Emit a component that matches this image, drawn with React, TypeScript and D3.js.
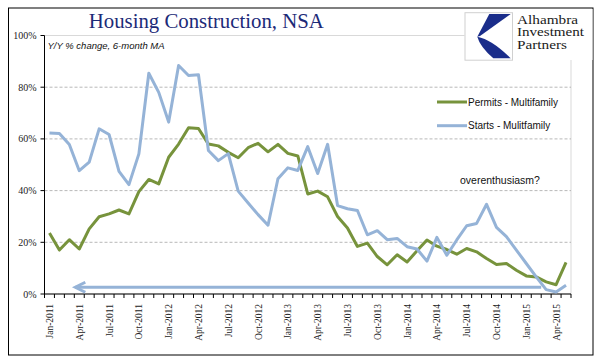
import React from "react";
import * as d3 from "d3";

// Y/Y % change, 6-month MA, Jan-2011 .. May-2015
const years = [2011, 2012, 2013, 2014, 2015];
const monthNames = ["Jan", "Feb", "Mar", "Apr", "May", "Jun", "Jul", "Aug", "Sep", "Oct", "Nov", "Dec"];
const months: string[] = [];
years.forEach((y) => monthNames.forEach((m) => months.push(`${m}-${y}`)));
const categories = months.slice(0, 53);

const permits = [
  23.6, 17, 21, 17.4, 25.2, 29.9, 31, 32.5, 31, 39.6, 44.3, 42.6,
  52.9, 58, 64.3, 64, 58, 57.3, 54.8, 52.7, 56.6, 58.3, 55, 57.9,
  54.4, 53.4, 38.7, 39.8, 37.6, 30, 25.5, 18.4, 19.7, 14.5, 11.3, 15.2,
  12.4, 16.7, 20.9, 18.5, 17.2, 15.4, 17.6, 16.3, 13.7, 11.4, 11.8, 9.2,
  7, 6.6, 4.7, 3.6, 12.2,
];

const starts = [
  62.3, 62.1, 57.8, 47.7, 51, 63.9, 61.7, 47.4, 42.3, 54.2, 85.4, 78,
  66.5, 88.4, 84.5, 84.8, 55.5, 51.6, 54.3, 39.8, 35.2, 30.7, 26.6, 44.6,
  48.8, 47.8, 57, 46.6, 57.9, 34.2, 33, 32.3, 22.9, 24.5, 21, 21.5,
  18.3, 17.4, 12.7, 21.9, 15, 20.9, 26.4, 27.3, 34.7, 25.8, 22.2, 17,
  11.8, 6.6, 1.7, 0.8, 3.4,
];

const yTicks = [0, 20, 40, 60, 80, 100];
const xTickLabels = categories.filter((_, i) => i % 3 === 0);

const series = [
  { name: "Permits - Multifamily", values: permits, color: "#77933C" },
  { name: "Starts - Mulitfamily", values: starts, color: "#95B3D7" },
];

// arrow annotation: from Apr-2011 to Mar-2015 at ~2.6%
const arrowFrom = "Apr-2011";
const arrowTo = "Mar-2015";
const arrowLevel = 2.6;

const serif = "'Liberation Serif', 'Times New Roman', serif";
const sans = "'Liberation Sans', Arial, sans-serif";

const App = () => {
  const left = 44.5;
  const right = 571;
  const top = 35.5;
  const bottom = 294;

  const x = d3.scaleBand<string>().domain(categories).range([left, right]).padding(0);
  const y = d3.scaleLinear().domain([0, 100]).range([bottom, top]);
  const cx = (c: string) => (x(c) as number) + x.bandwidth() / 2;

  const line = d3
    .line<number>()
    .x((_, i) => cx(categories[i]))
    .y((d) => y(d));

  const ax1 = x(arrowFrom) as number;
  const ax2 = x(arrowTo) as number;
  const ay = y(arrowLevel);

  return (
    <svg width={605} height={361} style={{ position: "absolute", left: 0, top: 0 }}>
      <rect x={0} y={0} width={605} height={361} fill="#fff" />
      <rect x={8.5} y={8} width={584.5} height={347} fill="none" stroke="#000" strokeWidth={1} />

      {/* plot area border */}
      <rect x={left} y={top} width={right - left} height={bottom - top} fill="none" stroke="#d9d9d9" strokeWidth={1} />

      {/* gridlines */}
      {yTicks.filter((t) => t > 0 && t < 100).map((t) => (
        <line key={t} x1={left} x2={right} y1={y(t)} y2={y(t)} stroke="#a6a6a6" strokeWidth={0.8} strokeDasharray="3,2" />
      ))}

      {/* y axis */}
      <line x1={left} x2={left} y1={top} y2={bottom} stroke="#000" strokeWidth={1} />
      {yTicks.map((t) => (
        <g key={t}>
          <line x1={left - 4} x2={left} y1={y(t)} y2={y(t)} stroke="#000" />
          <text x={left - 8} y={y(t) + 3.5} textAnchor="end" fontFamily={serif} fontSize={10} fill="#222">
            {t}%
          </text>
        </g>
      ))}

      {/* x axis */}
      <line x1={left} x2={right} y1={bottom} y2={bottom} stroke="#000" strokeWidth={1} />
      {categories.map((c) => (
        <line key={c} x1={x(c) as number} x2={x(c) as number} y1={bottom} y2={bottom + 4} stroke="#000" />
      ))}
      <line x1={right} x2={right} y1={bottom} y2={bottom + 4} stroke="#000" />
      {xTickLabels.map((c) => (
        <text
          key={c}
          transform={`translate(${cx(c) + 3.5},${bottom + 10}) rotate(-90)`}
          textAnchor="end"
          fontFamily={serif}
          fontSize={9.5}
          fill="#222"
        >
          {c}
        </text>
      ))}

      {/* series */}
      {series.map((s) => (
        <path key={s.name} d={line(s.values) as string} fill="none" stroke={s.color} strokeWidth={3} strokeLinejoin="round" />
      ))}

      {/* arrow */}
      <line x1={ax1 + 1} x2={ax2} y1={ay} y2={ay} stroke="#95B3D7" strokeWidth={3} />
      <path d={`M${ax1 + 11},${ay - 5} L${ax1 + 1},${ay} L${ax1 + 11},${ay + 5}`} fill="none" stroke="#95B3D7" strokeWidth={3} strokeLinejoin="miter" />

      {/* legend */}
      {series.map((s, i) => (
        <g key={s.name} transform={`translate(437,${102 + i * 23.7})`}>
          <line x1={0} x2={30} y1={0} y2={0} stroke={s.color} strokeWidth={3} />
          <text x={31} y={3.5} fontFamily={sans} fontSize={10} fill="#111">
            {s.name}
          </text>
        </g>
      ))}

      <text x={460} y={184.3} fontFamily={sans} fontSize={10.5} fill="#111">
        overenthusiasm?
      </text>

      {/* title */}
      <text x={206.3} y={27.5} textAnchor="middle" fontFamily={serif} fontSize={20.8} fill="#1c2a78">
        Housing Construction, NSA
      </text>
      <text x={47.5} y={49.3} fontFamily={sans} fontStyle="italic" fontSize={9.5} fill="#111">
        Y/Y % change, 6-month MA
      </text>

      {/* logo */}
      <rect x={464.5} y={9} width={128} height={51} fill="#fff" />
      <rect x={465} y={12.7} width={47.5} height={47.5} fill="#fff" stroke="#d0d0d0" strokeWidth={1} />
      <path d="M489.3,14 L510.7,14 L480,36 L477.3,36.7 Z" fill="#1a2d8a" />
      <path d="M477.3,36.7 Q491.7,39.3 510.7,58.3 L493.3,58.3 Q480,46.7 477.3,36.7 Z" fill="#1a2d8a" />
      <g fontFamily={serif} fontSize={13.5} fill="#1a1a1a" textLength={undefined}>
        <text x={517} y={23.5} textLength={61} lengthAdjust="spacingAndGlyphs">Alhambra</text>
        <text x={517} y={36} textLength={67} lengthAdjust="spacingAndGlyphs">Investment</text>
        <text x={517} y={48.5} textLength={50} lengthAdjust="spacingAndGlyphs">Partners</text>
      </g>
    </svg>
  );
};

export default App;
